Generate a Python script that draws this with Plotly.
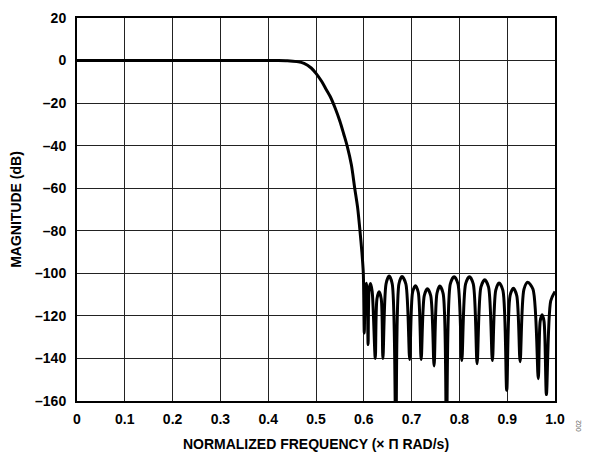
import plotly.graph_objects as go

# passband + transition band (normalized freq, dB)
pass_freq = [0.0, 0.05, 0.1, 0.15, 0.2, 0.25, 0.3, 0.35, 0.4, 0.42, 0.44, 0.46,
             0.475, 0.49, 0.5, 0.511, 0.522, 0.53, 0.54, 0.55, 0.558, 0.565,
             0.574, 0.581, 0.587, 0.592, 0.596, 0.599]
pass_mag = [0, 0, 0, 0, 0, 0, 0, 0, 0, 0, -0.1, -0.5,
            -1.3, -3.5, -6, -9.5, -13.8, -17, -22.3, -28.5, -34.5, -40,
            -49, -60, -69, -80, -90, -100]

# stopband lobes (nulls, shoulders, peaks)
stop_freq = [0.601, 0.603, 0.6055, 0.607, 0.609, 0.611, 0.614, 0.6175, 0.624,
             0.6275, 0.632, 0.6365, 0.640, 0.6465, 0.653, 0.6595, 0.667,
             0.6735, 0.680, 0.688, 0.696, 0.702, 0.708, 0.714, 0.720,
             0.7265, 0.733, 0.740, 0.747, 0.753, 0.759, 0.766, 0.773,
             0.781, 0.789, 0.797, 0.805, 0.813, 0.821, 0.829, 0.837,
             0.845, 0.853, 0.861, 0.869, 0.876, 0.883, 0.891, 0.899,
             0.906, 0.913, 0.920, 0.927, 0.935, 0.943, 0.954, 0.965,
             0.969, 0.973, 0.977, 0.982, 0.991, 1.0]
stop_mag = [-128, -108, -104.7, -108, -133.5, -108, -104.8, -108.5, -140,
            -112, -108.7, -112, -140, -105, -101.3, -105, -180,
            -105, -101.5, -105, -140.5, -109, -105.8, -109, -140.5,
            -110.5, -107.2, -110.5, -143.5, -109.5, -106, -109.5, -180,
            -105, -101.6, -105, -141, -105, -101.6, -105, -142.5,
            -106.5, -103, -106.5, -141, -108, -104.5, -108, -155,
            -110.5, -107, -110.5, -141.5, -107.5, -104.2, -107.5, -149.5,
            -122.5, -119.5, -122.5, -157, -113, -108.5]

x_ticks = [0, 0.1, 0.2, 0.3, 0.4, 0.5, 0.6, 0.7, 0.8, 0.9, 1.0]
x_labels = ["0", "0.1", "0.2", "0.3", "0.4", "0.5", "0.6", "0.7", "0.8", "0.9", "1.0"]
y_ticks = [20, 0, -20, -40, -60, -80, -100, -120, -140, -160]
y_labels = ["20", "0", "–20", "–40", "–60", "–80", "–100", "–120", "–140", "–160"]

font = dict(family="Liberation Sans, Arial", size=14, color="black", weight="bold")

fig = go.Figure()
fig.add_trace(go.Scatter(
    x=pass_freq + stop_freq,
    y=pass_mag + stop_mag,
    mode="lines",
    line=dict(color="black", width=3, shape="spline", smoothing=0.8),
    showlegend=False,
    hoverinfo="skip",
))

axis_style = dict(
    showgrid=True, gridcolor="#222", gridwidth=1.3,
    showline=True, linecolor="black", linewidth=2, mirror=True,
    zeroline=False, ticks="", tickfont=font, automargin=False,
)

fig.update_xaxes(
    range=[0, 1.0], tickvals=x_ticks, ticktext=x_labels,
    title=dict(text="NORMALIZED FREQUENCY (× Π RAD/s)", font=font, standoff=14),
    ticklabelstandoff=4,
    **axis_style,
)
fig.update_yaxes(
    range=[-160, 20], tickvals=y_ticks, ticktext=y_labels,
    title=dict(text="MAGNITUDE (dB)", font=font, standoff=10),
    ticklabelstandoff=6,
    **axis_style,
)

fig.add_annotation(
    text="002", textangle=-90, showarrow=False,
    xref="paper", yref="paper", x=1.06, y=-0.085,
    font=dict(family="Liberation Sans, Arial", size=7, color="#666"),
)

# the page body has an 8px margin, so the figure is 8px smaller than the window
fig.update_layout(
    width=584, height=444,
    margin=dict(l=69, r=37, t=10, b=51),
    plot_bgcolor="white", paper_bgcolor="white",
)

fig.write_html("out.html")
